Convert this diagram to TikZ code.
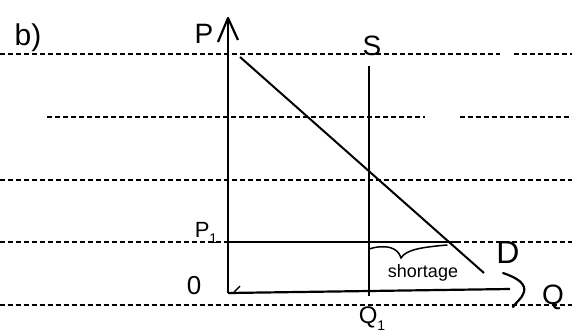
\documentclass[tikz,border=0pt]{standalone}
\usepackage{fontspec}
\setmainfont{Liberation Sans}
\tikzset{
  ruled/.style={line width=1.5pt, dash pattern=on 5pt off 3pt, black},
  axisline/.style={line width=2.2pt, black},
  curve/.style={line width=2pt, black},
  hand/.style={font=\fontsize{#1}{#1}\selectfont, inner sep=0pt},
  hand/.default=24
}
\newcommand{\lowsub}[1]{\raisebox{-0.3em}{\fontsize{14}{14}\selectfont #1}}
\begin{document}
\begin{tikzpicture}[x=1pt,y=-1pt]
\useasboundingbox (0,0) rectangle (572,335);
% ruled notebook lines
\draw[ruled] (0,54) -- (500,54);
\draw[ruled] (514,54) -- (572,54);
\draw[ruled] (47,117) -- (425,117);
\draw[ruled] (460,117) -- (572,117);
\draw[ruled] (0,180) -- (572,180);
\draw[ruled] (0,242) -- (572,242);
\draw[ruled] (0,305) -- (572,305);
% axes
\coordinate (O) at (228,293);
\coordinate (Ptop) at (228,18);
\coordinate (Qend) at (510,289);
\draw[axisline] (O) -- (Ptop);
\draw[axisline, line join=round] (218,42) -- (Ptop) -- (238,40);
\draw[axisline] (O) -- (Qend);
\draw[axisline, line cap=round] (503,273) .. controls (518,278) and (526,284) .. (524,292) .. controls (522,299) and (515,303) .. (513,307);
\draw[line width=1.4pt] (234,292) -- (240,286);
% demand
\coordinate (D1) at (240,57);
\coordinate (D2) at (484,273);
\draw[curve] (D1) -- (D2);
% supply
\coordinate (S1) at (369,66);
\coordinate (S2) at (369,296);
\draw[curve] (S1) -- (S2);
% price P1
\coordinate (P1a) at (228,242);
\coordinate (P1b) at (457,242);
\draw[curve] (P1a) -- (P1b);
% brace
\draw[line width=1.5pt, line cap=round] (369,249) .. controls (385,244) and (398,247) .. (401,258) .. controls (406,249) and (425,247) .. (447,245);
% labels
\node[hand=30] (lb) at (28,38) {b)};
\node[hand=28] (lP) at (204,34) {P};
\node[hand=28] (lS) at (372,46) {S};
\node[hand=22] (lP1) at (206,233) {P\lowsub{1}};
\node[hand=26] (l0) at (194,286) {0};
\node[hand=24] (lQ1) at (372,319) {Q\lowsub{1}};
\node[hand=32] (lD) at (508,252) {D};
\node[hand=28] (lQ) at (553,297) {Q};
\node[hand=18] (lsh) at (423,273) {shortage};
\end{tikzpicture}
\end{document}
